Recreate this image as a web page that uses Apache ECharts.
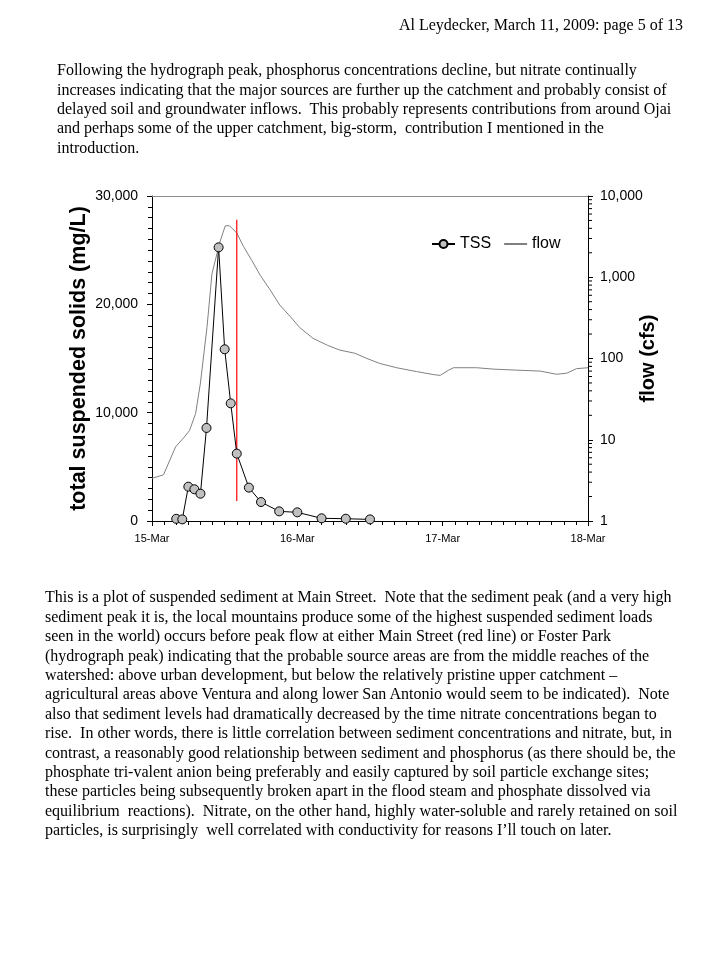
<!DOCTYPE html>
<html><head><meta charset="utf-8">
<script src="https://cdn.jsdelivr.net/npm/echarts@6/dist/echarts.min.js"></script>
<style>
html,body{margin:0;padding:0;background:#fff;}
#chart{position:absolute;left:0;top:0;width:720px;height:960px;}
.t{position:absolute;font-family:'Liberation Serif','Times New Roman',serif;font-size:16px;line-height:19.4px;white-space:pre;color:#000;}
</style></head><body>
<div id="chart"></div>
<div id="text"></div>
<script>
// ---------- text ----------
const headerText = "Al Leydecker, March 11, 2009: page 5 of 13";
const para1Lines = [
  "Following the hydrograph peak, phosphorus concentrations decline, but nitrate continually",
  "increases indicating that the major sources are further up the catchment and probably consist of",
  "delayed soil and groundwater inflows.  This probably represents contributions from around Ojai",
  "and perhaps some of the upper catchment, big-storm,  contribution I mentioned in the",
  "introduction."
];
const para2Lines = [
  "This is a plot of suspended sediment at Main Street.  Note that the sediment peak (and a very high",
  "sediment peak it is, the local mountains produce some of the highest suspended sediment loads",
  "seen in the world) occurs before peak flow at either Main Street (red line) or Foster Park",
  "(hydrograph peak) indicating that the probable source areas are from the middle reaches of the",
  "watershed: above urban development, but below the relatively pristine upper catchment \u2013",
  "agricultural areas above Ventura and along lower San Antonio would seem to be indicated).  Note",
  "also that sediment levels had dramatically decreased by the time nitrate concentrations began to",
  "rise.  In other words, there is little correlation between sediment concentrations and nitrate, but, in",
  "contrast, a reasonably good relationship between sediment and phosphorus (as there should be, the",
  "phosphate tri-valent anion being preferably and easily captured by soil particle exchange sites;",
  "these particles being subsequently broken apart in the flood steam and phosphate dissolved via",
  "equilibrium  reactions).  Nitrate, on the other hand, highly water-soluble and rarely retained on soil",
  "particles, is surprisingly  well correlated with conductivity for reasons I\u2019ll touch on later."
];

// ---------- chart data ----------
const dayLabels = ["15-Mar", "16-Mar", "17-Mar", "18-Mar"];   // x ticks every 24 h
const tssName = "TSS";
const flowName = "flow";
const leftAxisName = "total suspended solids (mg/L)";
const rightAxisName = "flow (cfs)";
// hours after 15-Mar 00:00
const tssHours  = [4, 5, 6, 7, 8, 9, 11, 12, 13, 14, 16, 18, 21, 24, 28, 32, 36];
const tssValues = [200, 150, 3170, 2930, 2520, 8590, 25260, 15850, 10860, 6220, 3080, 1750, 890, 800, 250, 210, 150];
const flowHours  = [0, 1.9, 3.9, 5.2, 6.2, 7.2, 8.0, 9.1, 9.9, 11.2, 12.1, 12.8, 14.0, 15.1, 16.5, 17.9, 19.5, 21.1, 22.8, 24.4, 26.6, 29.0, 31.0, 33.5, 35.5, 37.6, 40.4, 43.7, 46.7, 47.6, 49.0, 49.8, 53.6, 56.4, 60.0, 64.1, 66.8, 68.5, 70.1, 72];
const flowValues = [3.35, 3.7, 8.2, 10.5, 13, 21, 50, 250, 1100, 2700, 4300, 4300, 3500, 2400, 1600, 1050, 700, 455, 330, 240, 177, 145, 127, 116, 100, 87, 77, 69, 63, 62, 72, 77, 77, 74, 72, 70, 64, 66, 75, 77];
// Main Street peak marker (red line)
const redLineHour = 14;
const redLineRange = [1850, 27800];
const flowMinorTicks = [2,3,4,5,6,7,8,9,20,30,40,50,60,70,80,90,200,300,400,500,600,700,800,900,2000,3000,4000,5000,6000,7000,8000,9000];

// ---------- text layout ----------
const textBox = document.getElementById('text');
function addLine(str, left, top, extra) {
  const d = document.createElement('div');
  d.className = 't';
  d.textContent = str;
  if (left !== null) d.style.left = left + 'px';
  d.style.top = top + 'px';
  if (extra) Object.assign(d.style, extra);
  textBox.appendChild(d);
}
addLine(headerText, null, 15, {right: '37px', fontSize: '16px'});
para1Lines.forEach((s, i) => addLine(s, 57, 60.3 + i * 19.3));
para2Lines.forEach((s, i) => addLine(s, 45, 587.3 + i * 19.4));

// ---------- chart ----------
const sans = "'Liberation Sans', Arial, sans-serif";
const fmt = v => v.toLocaleString('en-US');
const chart = echarts.init(document.getElementById('chart'), null, {renderer: 'canvas'});
const option = {
  animation: false,
  backgroundColor: 'transparent',
  grid: {left: 152, right: 132, top: 196, bottom: 439},
  legend: {
    data: [tssName, {name: flowName, itemStyle: {opacity: 0}}],
    left: 431, top: 236, padding: 0,
    itemWidth: 23, itemHeight: 10, itemGap: 12,
    textStyle: {fontFamily: sans, fontSize: 16, color: '#000'}
  },
  xAxis: [{
    type: 'value', min: 0, max: 72, interval: 24,
    axisLine: {onZero: false, lineStyle: {color: '#000', width: 1}},
    axisTick: {length: 5, lineStyle: {color: '#000'}},
    minorTick: {show: true, splitNumber: 12, length: 4, lineStyle: {color: '#000'}},
    splitLine: {show: false},
    axisLabel: {formatter: v => dayLabels[Math.round(v / 24)], fontFamily: sans, fontSize: 11, color: '#000', margin: 12}
  }, {
    type: 'value', position: 'top', min: 0, max: 72,
    axisLine: {show: true, onZero: false, lineStyle: {color: '#8c8c8c', width: 1}},
    axisTick: {show: false}, axisLabel: {show: false}, splitLine: {show: false}
  }],
  yAxis: [{
    type: 'value', min: 0, max: 30000, interval: 10000, position: 'left',
    name: leftAxisName, nameLocation: 'middle', nameGap: 62, nameMoveOverlap: false,
    nameTextStyle: {fontFamily: sans, fontSize: 21.5, fontWeight: 'bold', color: '#000'},
    axisLine: {show: true, onZero: false, lineStyle: {color: '#000'}},
    axisTick: {show: true, length: 5, lineStyle: {color: '#000'}},
    minorTick: {show: true, splitNumber: 10, length: 4, lineStyle: {color: '#000'}},
    splitLine: {show: false},
    axisLabel: {formatter: fmt, fontFamily: sans, fontSize: 14, color: '#000', margin: 14}
  }, {
    type: 'log', logBase: 10, min: 1, max: 10000, position: 'right',
    name: rightAxisName, nameLocation: 'middle', nameGap: 50, nameRotate: 90, nameMoveOverlap: false,
    nameTextStyle: {fontFamily: sans, fontSize: 20, fontWeight: 'bold', color: '#000'},
    axisLine: {show: true, onZero: false, lineStyle: {color: '#000'}},
    axisTick: {show: true, length: 5, lineStyle: {color: '#000'}},
    minorTick: {show: false},
    splitLine: {show: false},
    axisLabel: {formatter: fmt, fontFamily: sans, fontSize: 14, color: '#000', margin: 12}
  }],
  series: [{
    name: flowName, type: 'line', xAxisIndex: 0, yAxisIndex: 1,
    data: flowHours.map((h, i) => [h, flowValues[i]]),
    symbol: 'none', smooth: false,
    lineStyle: {color: '#808080', width: 1}, itemStyle: {color: '#808080'}
  }, {
    name: 'Main Street peak', type: 'line', xAxisIndex: 0, yAxisIndex: 0,
    data: redLineRange.map(v => [redLineHour, v]),
    symbol: 'none', lineStyle: {color: '#ff0000', width: 1.2}, z: 3
  }, {
    name: tssName, type: 'line', xAxisIndex: 0, yAxisIndex: 0,
    data: tssHours.map((h, i) => [h, tssValues[i]]),
    symbol: 'circle', symbolSize: 9,
    lineStyle: {color: '#000', width: 1},
    itemStyle: {color: '#c0c0c0', borderColor: '#000', borderWidth: 1}, z: 4
  }, {
    name: 'flowMinorTicks', type: 'custom', xAxisIndex: 0, yAxisIndex: 1,
    data: flowMinorTicks.map(v => [72, v]), clip: false, silent: true,
    renderItem: (params, api) => {
      const p = api.coord([api.value(0), api.value(1)]);
      return {type: 'line', shape: {x1: p[0], y1: p[1], x2: p[0] + 4, y2: p[1]}, style: {stroke: '#000', lineWidth: 1}};
    }
  }]
};
chart.setOption(option);
</script>
</body></html>
